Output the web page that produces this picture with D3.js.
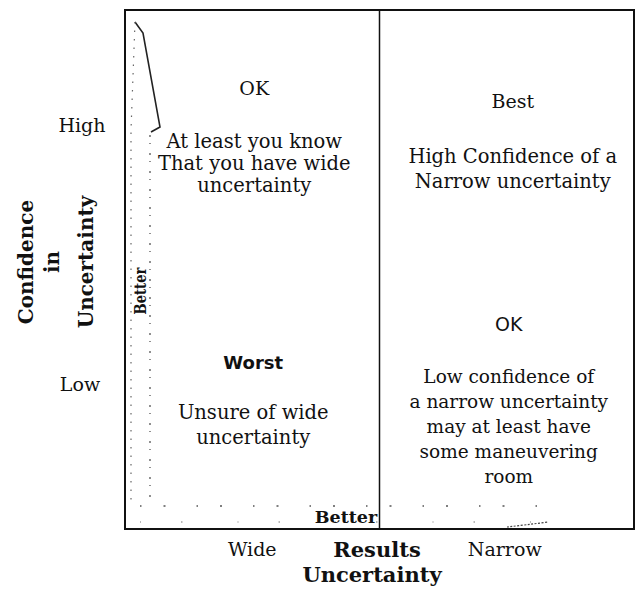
<!DOCTYPE html>
<html>
<head>
<meta charset="utf-8">
<script src="https://cdn.jsdelivr.net/npm/d3@7"></script>
<style>
  body { margin: 0; background: #fff; }
  svg { display: block; }
  text { fill: #111; }
</style>
</head>
<body>
<div id="chart"></div>
<script>
// axis categories
var xCats = ["Wide", "Narrow"];
var yCats = ["High", "Low"];

// quadrant texts
var quadNames = ["TL", "TR", "BL", "BR"];
var quadX = ["Wide", "Narrow", "Wide", "Narrow"];
var quadY = ["High", "High", "Low", "Low"];
var quadTitles = ["OK", "Best", "Worst", "OK"];
var quadLines = [
  ["At least you know", "That you have wide", "uncertainty"],
  ["High Confidence of a", "Narrow uncertainty"],
  ["Unsure of wide", "uncertainty"],
  ["Low confidence of", "a narrow uncertainty", "may at least have", "some maneuvering", "room"]
];

var xTitle = ["Results", "Uncertainty"];
var yTitle = ["Confidence", "in", "Uncertainty"];
var arrowLabel = "Better";

// layout (pixels), kept apart from the data
var W = 639, H = 589;
var box = {left: 125, right: 634, top: 10, bottom: 529};
var layout = {
  TL: {dx: 2,  title: 85, first: 138, step: 22,   size: 19.5},
  TR: {dx: 6,  title: 98, first: 153, step: 25,   size: 19.5},
  BL: {dx: 1,  title: 99, first: 149, step: 25,   size: 19.5},
  BR: {dx: 2,  title: 61, first: 113, step: 25.2, size: 18.5}
};

var svg = d3.select("#chart").append("svg")
  .attr("width", W).attr("height", H);

var x = d3.scaleBand().domain(xCats).range([box.left, box.right]);
var y = d3.scaleBand().domain(yCats).range([box.top, box.bottom]);

var serif = "'DejaVu Serif', serif";
var sans = "'DejaVu Sans', sans-serif";

// faint "Better" arrows (scanned look)
var g = svg.append("g").attr("class", "arrows");
g.append("path")
  .attr("d", "M135,22 L143,33 L160,127 L151,132")
  .attr("fill", "none").attr("stroke", "#222").attr("stroke-width", 1.6);
g.append("path")
  .attr("d", "M135,22 L131,130 L131,500")
  .attr("fill", "none").attr("stroke", "#666").attr("stroke-width", 1.2)
  .attr("stroke-dasharray", "1.5,7");
g.append("path")
  .attr("d", "M150,135 L150,500")
  .attr("fill", "none").attr("stroke", "#555").attr("stroke-width", 1.3)
  .attr("stroke-dasharray", "2,6,1,9");
g.append("path")
  .attr("d", "M140,506 L545,506")
  .attr("fill", "none").attr("stroke", "#555").attr("stroke-width", 1.3)
  .attr("stroke-dasharray", "1.5,22,2,31");
g.append("path")
  .attr("d", "M140,522 L545,522")
  .attr("fill", "none").attr("stroke", "#777").attr("stroke-width", 1)
  .attr("stroke-dasharray", "1,40,1.5,55");
g.append("path")
  .attr("d", "M507,527 Q525,525 548,522")
  .attr("fill", "none").attr("stroke", "#444").attr("stroke-width", 1.2)
  .attr("stroke-dasharray", "2,1.5");

// box and divider
svg.append("rect")
  .attr("x", box.left).attr("y", box.top)
  .attr("width", box.right - box.left).attr("height", box.bottom - box.top)
  .attr("fill", "none").attr("stroke", "#111").attr("stroke-width", 2);
svg.append("line")
  .attr("x1", x("Narrow")).attr("x2", x("Narrow"))
  .attr("y1", box.top).attr("y2", box.bottom)
  .attr("stroke", "#111").attr("stroke-width", 1.5);

// "Better" labels
svg.append("text")
  .attr("transform", "translate(146,291) rotate(-90)")
  .attr("text-anchor", "middle")
  .attr("textLength", 47).attr("lengthAdjust", "spacingAndGlyphs")
  .style("font-family", serif).style("font-weight", "bold").style("font-size", "17px")
  .text(arrowLabel);
svg.append("text")
  .attr("x", 346).attr("y", 523)
  .attr("text-anchor", "middle")
  .style("font-family", serif).style("font-weight", "bold").style("font-size", "17.5px")
  .text(arrowLabel);

// quadrant texts
quadNames.forEach(function(q, i) {
  var L = layout[q];
  var cx = x(quadX[i]) + x.bandwidth() / 2 + L.dx;
  var top = y(quadY[i]);
  svg.append("text")
    .attr("x", cx).attr("y", top + L.title)
    .attr("text-anchor", "middle")
    .style("font-family", i >= 2 ? sans : serif)
    .style("font-weight", i == 2 ? "bold" : "normal")
    .style("font-size", i == 2 ? "18px" : "19px")
    .text(quadTitles[i]);
  quadLines[i].forEach(function(s, j) {
    svg.append("text")
      .attr("x", cx).attr("y", top + L.first + j * L.step)
      .attr("text-anchor", "middle")
      .style("font-family", serif)
      .style("font-size", L.size + "px")
      .text(s);
  });
});

// y tick labels
var yTickX = [82, 80];
var yTickY = [132, 391];
yCats.forEach(function(c, i) {
  svg.append("text")
    .attr("x", yTickX[i]).attr("y", yTickY[i])
    .attr("text-anchor", "middle")
    .style("font-family", serif).style("font-size", "19px")
    .text(c);
});

// x tick labels
var xTickDx = [0, -2];
xCats.forEach(function(c, i) {
  svg.append("text")
    .attr("x", x(c) + x.bandwidth() / 2 + xTickDx[i]).attr("y", 556)
    .attr("text-anchor", "middle")
    .style("font-family", serif).style("font-size", "19px")
    .text(c);
});

// x axis title
var xTitleX = [377, 372];
xTitle.forEach(function(s, i) {
  svg.append("text")
    .attr("x", xTitleX[i]).attr("y", 557 + i * 25)
    .attr("text-anchor", "middle")
    .style("font-family", serif).style("font-weight", "bold").style("font-size", "21px")
    .text(s);
});

// y axis title (rotated)
var yTitleX = [33, 59, 93];
yTitle.forEach(function(s, i) {
  svg.append("text")
    .attr("transform", "translate(" + yTitleX[i] + ",262) rotate(-90)")
    .attr("text-anchor", "middle")
    .style("font-family", serif).style("font-weight", "bold").style("font-size", "20px")
    .text(s);
});
</script>
</body>
</html>
